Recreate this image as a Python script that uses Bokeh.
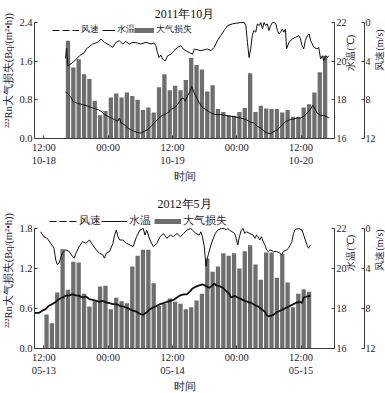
import math
from bokeh.plotting import figure
from bokeh.models import (Range1d, LinearAxis, Legend, LegendItem, FixedTicker,
                          NumeralTickFormatter, Label)
from bokeh.layouts import column
from bokeh.embed import file_html
from bokeh.resources import INLINE

# ---------------- data ----------------
oct_title = "2011年10月"
may_title = "2012年5月"
x_ticks = [0, 12, 24, 36, 48]
oct_tick_labels = {0: "12:00\n10-18", 12: "00:00", 24: "12:00\n10-19", 36: "00:00", 48: "12:00\n10-20"}
may_tick_labels = {0: "12:00\n05-13", 12: "00:00", 24: "12:00\n05-14", 36: "00:00", 48: "12:00\n05-15"}

# hours after 12:00 of the first day (bar = hourly mean, centred on half hour)
oct_bar_hours = [h + 0.5 for h in range(4, 53)]
oct_loss = [2.02, 1.47, 1.64, 1.33, 1.23, 0.78, 0.48, 0.57, 0.85, 0.93, 0.85, 0.95,
            0.88, 0.80, 0.59, 0.64, 0.54, 1.06, 1.33, 1.00, 1.09, 1.00, 1.21, 1.67,
            1.52, 1.43, 0.97, 1.10, 0.61, 0.55, 0.48, 0.47, 0.55, 0.63, 1.35, 0.55,
            0.68, 0.62, 0.61, 0.61, 0.54, 0.59, 0.45, 0.45, 0.64, 0.71, 0.95, 1.37, 1.71]

oct_wind_h = [4.04, 4.23, 4.47, 5.4, 6.65, 7.58, 7.9, 9.12, 10.06, 10.68, 11.3, 12.23, 12.85,
              13.48, 14.1, 14.7, 15.3, 15.96, 16.58, 17.5, 18.1, 19.07, 20.0, 20.6, 20.9, 21.2,
              21.5, 21.85, 22.16, 22.66, 23.1, 23.7, 24.3, 24.95, 25.6, 26.0, 26.5, 27.1, 27.75,
              28.1, 29.3, 30.5, 31.2, 31.8, 32.4, 33.0, 33.65, 34.3, 35.2, 36.75, 37.4, 37.7,
              38.0, 38.3, 38.6, 38.9, 39.2, 39.55, 39.85, 40.2, 40.5, 40.8, 41.1, 41.4, 41.7,
              42.0, 42.35, 42.65, 42.96, 43.3, 43.6, 43.9, 44.2, 44.5, 44.8, 45.1, 45.3, 45.75,
              46.4, 47.0, 47.6, 47.9, 48.2, 48.5, 48.8, 49.2, 49.5, 49.8, 50.1, 50.4, 51.0,
              51.3, 51.66, 51.96, 52.27, 52.6, 52.9, 53.2]
oct_wind = [3.72, 2.64, 4.48, 4.14, 3.44, 3.1, 2.74, 2.22, 2.05, 1.7, 2.05, 2.33, 2.57,
            2.05, 1.88, 2.22, 1.98, 2.22, 2.05, 2.12, 2.22, 2.05, 2.22, 2.12, 2.4, 3.1,
            3.62, 3.37, 3.79, 3.97, 3.44, 3.27, 2.92, 2.57, 2.4, 2.74, 2.92, 3.1, 3.27,
            2.74, 2.92, 2.74, 2.92, 2.57, 1.88, 1.36, 0.83, 0.31, 0.14, 0.0, 0.0, 0.31,
            2.05, 3.62, 2.74, 1.36, 0.83, 1.0, 0.14, 0.31, 0.0, 0.66, 0.0, 0.31, 0.14,
            0.83, 0.31, 0.0, 0.0, 0.14, 0.83, 1.18, 1.0, 0.66, 1.0, 0.66, 2.74, 2.05,
            1.7, 1.53, 1.36, 1.7, 2.4, 2.74, 1.88, 1.36, 1.18, 1.88, 2.22, 2.57, 2.74,
            2.57, 3.79, 3.44, 3.97, 3.44, 3.62, 3.44]

oct_temp_h = [4.04, 4.47, 5.1, 5.4, 6.33, 7.26, 8.2, 9.12, 10.06, 10.68, 11.3, 11.92, 12.55,
              13.17, 13.78, 14.1, 14.4, 15.03, 15.64, 16.27, 16.9, 17.5, 18.1, 18.75, 19.37,
              20.0, 20.6, 21.2, 21.86, 22.48, 23.1, 23.7, 24.34, 24.95, 25.59, 26.0, 26.4,
              26.8, 27.3, 27.6, 28.0, 28.5, 29.0, 29.6, 30.24, 31.17, 32.1, 33.0, 33.97,
              34.9, 35.83, 36.76, 37.7, 38.6, 39.24, 39.85, 40.5, 41.1, 41.7, 42.35, 42.96,
              43.6, 44.2, 44.8, 45.4, 46.07, 46.7, 47.3, 47.9, 48.55, 49.16, 49.8, 50.2,
              50.5, 51.0, 51.66, 52.27, 52.9, 53.2]
oct_temp = [18.4, 18.33, 18.1, 17.93, 17.81, 17.76, 17.67, 17.58, 17.5, 17.41, 17.24, 17.15,
            17.06, 16.98, 16.89, 17.06, 16.8, 16.72, 16.54, 16.45, 16.37, 16.31, 16.28, 16.37,
            16.45, 16.63, 16.8, 16.98, 17.15, 17.24, 17.32, 17.5, 17.58, 17.76, 18.02, 18.1,
            17.93, 18.19, 18.45, 18.7, 18.4, 18.1, 17.85, 17.6, 17.5, 17.32, 17.24, 17.24,
            17.19, 17.15, 17.11, 17.06, 16.98, 16.84, 16.8, 16.63, 16.54, 16.37, 16.28, 16.25,
            16.37, 16.45, 16.63, 16.8, 16.92, 16.98, 17.01, 17.06, 17.06, 17.15, 17.32, 17.53,
            17.71, 17.58, 17.32, 17.19, 17.19, 17.11, 17.06]

may_bar_hours = [h + 0.5 for h in range(0, 50)]
may_loss = [0.51, 0.38, 0.84, 1.49, 0.88, 1.30, 1.29, 0.82, 0.63, 0.71, 0.93, 0.94,
            0.59, 0.76, 0.71, 0.68, 1.23, 1.39, 1.48, 1.48, 0.98, 0.64, 0.67, 0.75,
            0.70, 0.67, 0.59, 0.62, 0.72, 0.82, 1.35, 1.15, 1.23, 1.43, 1.39, 1.43,
            1.20, 1.46, 1.55, 1.26, 1.03, 1.44, 1.44, 1.06, 1.42, 0.99, 0.62, 0.82, 0.89, 0.85]

may_wind_h = [-0.62, 0.0, 0.63, 1.26, 1.89, 2.2, 2.5, 2.83, 3.45, 4.09, 4.72, 5.34, 5.66,
              5.98, 6.6, 7.23, 7.86, 8.49, 9.11, 9.75, 10.38, 11.0, 11.3, 11.64, 12.26,
              12.89, 13.2, 13.52, 13.84, 14.15, 14.77, 15.4, 16.04, 16.66, 17.3, 17.92,
              18.55, 18.87, 19.2, 19.8, 20.43, 21.07, 21.7, 22.3, 22.96, 23.6, 24.2, 24.85,
              25.47, 26.1, 26.7, 27.36, 27.74, 28.36, 29.0, 29.3, 29.6, 29.94, 30.1, 30.25,
              30.4, 30.75, 31.2, 31.5, 32.0, 32.45, 33.1, 33.7, 34.0, 34.34, 34.65, 35.16,
              35.6, 35.9, 36.2, 36.5, 36.85, 37.17, 37.5, 37.8, 38.43, 39.06, 39.4, 39.7,
              40.0, 40.3, 40.6, 40.94, 41.26, 41.57, 41.9, 42.2, 42.83, 43.45, 44.1, 44.4,
              44.7, 45.34, 45.66, 45.98, 46.3, 46.6, 46.9, 47.55, 48.2, 48.5, 48.8, 49.1,
              49.4, 49.75]
may_wind = [0.33, 0.82, 0.99, 1.48, 1.97, 3.12, 3.61, 3.45, 2.47, 2.13, 2.3, 2.79, 2.96,
            2.47, 1.81, 1.31, 1.48, 1.15, 1.64, 2.13, 2.47, 2.63, 2.96, 2.47, 2.3,
            1.48, 0.66, 0.16, 0.82, 1.15, 1.15, 1.48, 1.64, 1.81, 0.82, 0.16,
            0.0, 0.66, 0.16, 1.15, 1.81, 1.48, 0.82, 0.49, 0.99, 0.66, 0.82, 0.49,
            0.82, 0.49, 0.16, 0.0, 0.16, 0.49, 0.66, 0.33, 0.82, 1.81, 2.79, 3.78,
            3.29, 2.47, 1.64, 1.15, 0.49, 0.16, 0.0, 0.0, 0.16, 0.0, 0.16, 0.33,
            0.49, 0.99, 1.64, 0.82, 0.16, 0.0, 0.49, 0.33, 0.49, 0.66, 0.99, 0.66,
            0.82, 1.15, 0.82, 1.31, 1.64, 2.13, 2.3, 2.13, 2.3, 2.3, 2.47, 2.63,
            2.3, 2.13, 1.97, 1.64, 1.31, 0.49, 0.1, 0.0, 0.16, 0.66, 1.15, 1.64,
            1.97, 1.64]

may_temp_h = [-1.7, -0.94, -0.31, 0.31, 0.94, 1.57, 2.2, 2.83, 3.45, 4.09, 4.72, 5.34, 5.98,
              6.6, 7.23, 7.86, 8.49, 9.11, 9.75, 10.38, 11.0, 11.64, 12.26, 12.89, 13.52,
              14.15, 14.77, 15.4, 16.04, 16.66, 17.3, 17.92, 18.55, 19.2, 19.8, 20.43, 21.07,
              21.7, 22.3, 22.96, 23.6, 24.2, 24.85, 25.47, 26.1, 26.7, 27.36, 27.74, 28.36,
              29.0, 29.6, 30.25, 30.9, 31.5, 31.83, 32.14, 32.77, 33.4, 34.0, 34.65, 34.96,
              35.6, 36.2, 36.85, 37.5, 38.1, 38.74, 39.37, 40.0, 40.6, 41.26, 41.57, 41.9,
              42.5, 42.83, 43.45, 44.1, 44.7, 45.34, 45.98, 46.6, 47.23, 47.87, 48.17, 48.5,
              49.1, 49.75]
may_temp = [17.78, 17.78, 17.89, 17.97, 18.14, 18.22, 18.33, 18.47, 18.55, 18.63, 18.66, 18.71,
            18.66, 18.63, 18.55, 18.6, 18.47, 18.43, 18.38, 18.33, 18.38, 18.3, 18.27, 18.22,
            18.22, 18.14, 18.1, 18.05, 17.97, 17.89, 17.84, 17.73, 17.68, 17.81, 17.97, 18.05,
            18.14, 18.22, 18.27, 18.33, 18.38, 18.43, 18.55, 18.66, 18.71, 18.71, 18.88, 19.0,
            19.09, 19.16, 19.21, 19.12, 19.04, 19.16, 19.26, 19.16, 19.12, 19.04, 18.88, 18.71,
            18.55, 18.63, 18.55, 18.47, 18.38, 18.33, 18.27, 18.17, 18.1, 17.97, 17.84, 17.68,
            17.61, 17.64, 17.68, 17.81, 17.89, 17.97, 18.05, 18.14, 18.22, 18.3, 18.33, 18.27,
            18.55, 18.6, 18.63]

oct_loss_ticks = [0.0, 0.8, 1.6, 2.4]
may_loss_ticks = [0.0, 0.6, 1.2, 1.8]
temp_ticks = [16, 18, 20, 22]
wind_ticks = [0, 4, 8, 12]

# ---------------- style ----------------
SERIF = "Liberation Serif"
TXT = "#1d2333"
AXC = "#3c3c3c"
BAR = "#6e6e6e"
NAN = float("nan")


def style_axis(ax, tick_size="10.5px", label_size="10.5px", tick_so=2, label_so=2):
    ax.axis_line_color = AXC
    ax.major_tick_line_color = AXC
    ax.major_tick_in = 3
    ax.major_tick_out = 0
    ax.minor_tick_line_color = None
    ax.major_label_text_font = SERIF
    ax.major_label_text_font_size = tick_size
    ax.major_label_text_color = TXT
    ax.major_label_standoff = tick_so
    ax.axis_label_text_font = SERIF
    ax.axis_label_text_font_size = label_size
    ax.axis_label_text_font_style = "normal"
    ax.axis_label_text_color = TXT
    ax.axis_label_standoff = label_so


def add_legend(p, renderer, label, x, y, gw, size):
    lg = Legend(items=[LegendItem(label=label, renderers=[renderer])], location=(x, y),
                glyph_width=gw, glyph_height=12, label_height=12, padding=0, margin=0,
                label_standoff=2, spacing=0, border_line_color=None,
                background_fill_alpha=0, label_text_font=SERIF,
                label_text_font_size=size, label_text_color=TXT)
    p.add_layout(lg)


def panel(title, tick_labels, bar_h, loss, wind_h, wind, temp_h, temp, y_max, y_ticks,
          data_h, extra_h, bottom_b, title_y, temp_lw, legend_pos, legend_size):
    # the frame is taller than the data area so that the title and legend sit inside it;
    # the axes are bounded to the data area
    k = (data_h + extra_h) / data_h
    p = figure(frame_width=300, frame_height=data_h + extra_h,
               x_range=Range1d(-1.75, 54.25), y_range=Range1d(0, y_max * k),
               output_backend="svg", toolbar_location=None,
               min_border_left=27, min_border_right=0,
               min_border_top=2, min_border_bottom=bottom_b)
    p.outline_line_color = None
    p.grid.grid_line_color = None
    p.background_fill_color = "white"

    p.extra_y_ranges = {"temp": Range1d(16, 16 + 6 * k), "wind": Range1d(12, 12 - 12 * k)}

    p.vbar(x=bar_h, top=loss, width=0.8, fill_color=BAR, line_color=None)
    p.line(x=wind_h, y=wind, y_range_name="wind", line_color="#111111", line_width=1)
    p.line(x=temp_h, y=temp, y_range_name="temp", line_color="#111111", line_width=temp_lw)

    p.add_layout(Label(x=150, y=title_y, x_units="screen", y_units="screen",
                       text=title, text_align="center", text_baseline="middle",
                       text_font=SERIF, text_font_size="12px", text_color="#111111"))

    # x axis
    xa = p.xaxis[0]
    style_axis(xa)
    xa.ticker = FixedTicker(ticks=x_ticks)
    xa.major_label_overrides = tick_labels
    xa.axis_label = "时间"
    xa.major_label_standoff = 3

    ya = p.yaxis[0]
    style_axis(ya)
    ya.ticker = FixedTicker(ticks=y_ticks)
    ya.formatter = NumeralTickFormatter(format="0.0")
    ya.axis_label = "²²²Rn大气损失(Bq/(m²•h))"
    ya.bounds = (0, y_max)

    ta = LinearAxis(y_range_name="temp", ticker=FixedTicker(ticks=temp_ticks),
                    axis_label="水温(℃)", bounds=(16, 22))
    wa = LinearAxis(y_range_name="wind", ticker=FixedTicker(ticks=wind_ticks),
                    axis_label="风速(m/s)", bounds=(0, 12))
    style_axis(ta, tick_size="10px", label_size="10px", tick_so=2, label_so=1)
    style_axis(wa, tick_size="10px", label_size="10px", tick_so=1, label_so=1)
    for ax in (ta, wa):
        if "axis_label_orientation" in ax.properties():
            ax.axis_label_orientation = math.pi / 2
        p.add_layout(ax, "right")

    # legend (helper glyphs holding a single empty point)
    l_wind = p.line(x=[NAN], y=[NAN], line_color="#111111", line_width=1, line_dash="7 3")
    l_temp = p.line(x=[NAN], y=[NAN], line_color="#111111", line_width=1)
    l_bar = p.line(x=[NAN], y=[NAN], line_color=BAR, line_width=5)
    (wx, ww), (tx, tw), (bx, bw), ly = legend_pos
    add_legend(p, l_wind, "风速", wx, ly, ww, legend_size)
    add_legend(p, l_temp, "水温", tx, ly, tw, legend_size)
    add_legend(p, l_bar, "大气损失", bx, ly, bw, legend_size)
    return p


top = panel(oct_title, oct_tick_labels, oct_bar_hours, oct_loss, oct_wind_h, oct_wind,
            oct_temp_h, oct_temp, 2.4, oct_loss_ticks, 116, 20, 52, 125, 1,
            ((18, 27), (68, 13), (100, 20), 102), "9px")
bottom = panel(may_title, may_tick_labels, may_bar_hours, may_loss, may_wind_h, may_wind,
               may_temp_h, may_temp, 1.8, may_loss_ticks, 120, 36, 43, 145, 1.8,
               ((15, 28), (67, 26), (120, 27), 120), "10.5px")

layout = column(top, bottom, spacing=0)
open("out.html", "w").write(file_html(layout, INLINE))
